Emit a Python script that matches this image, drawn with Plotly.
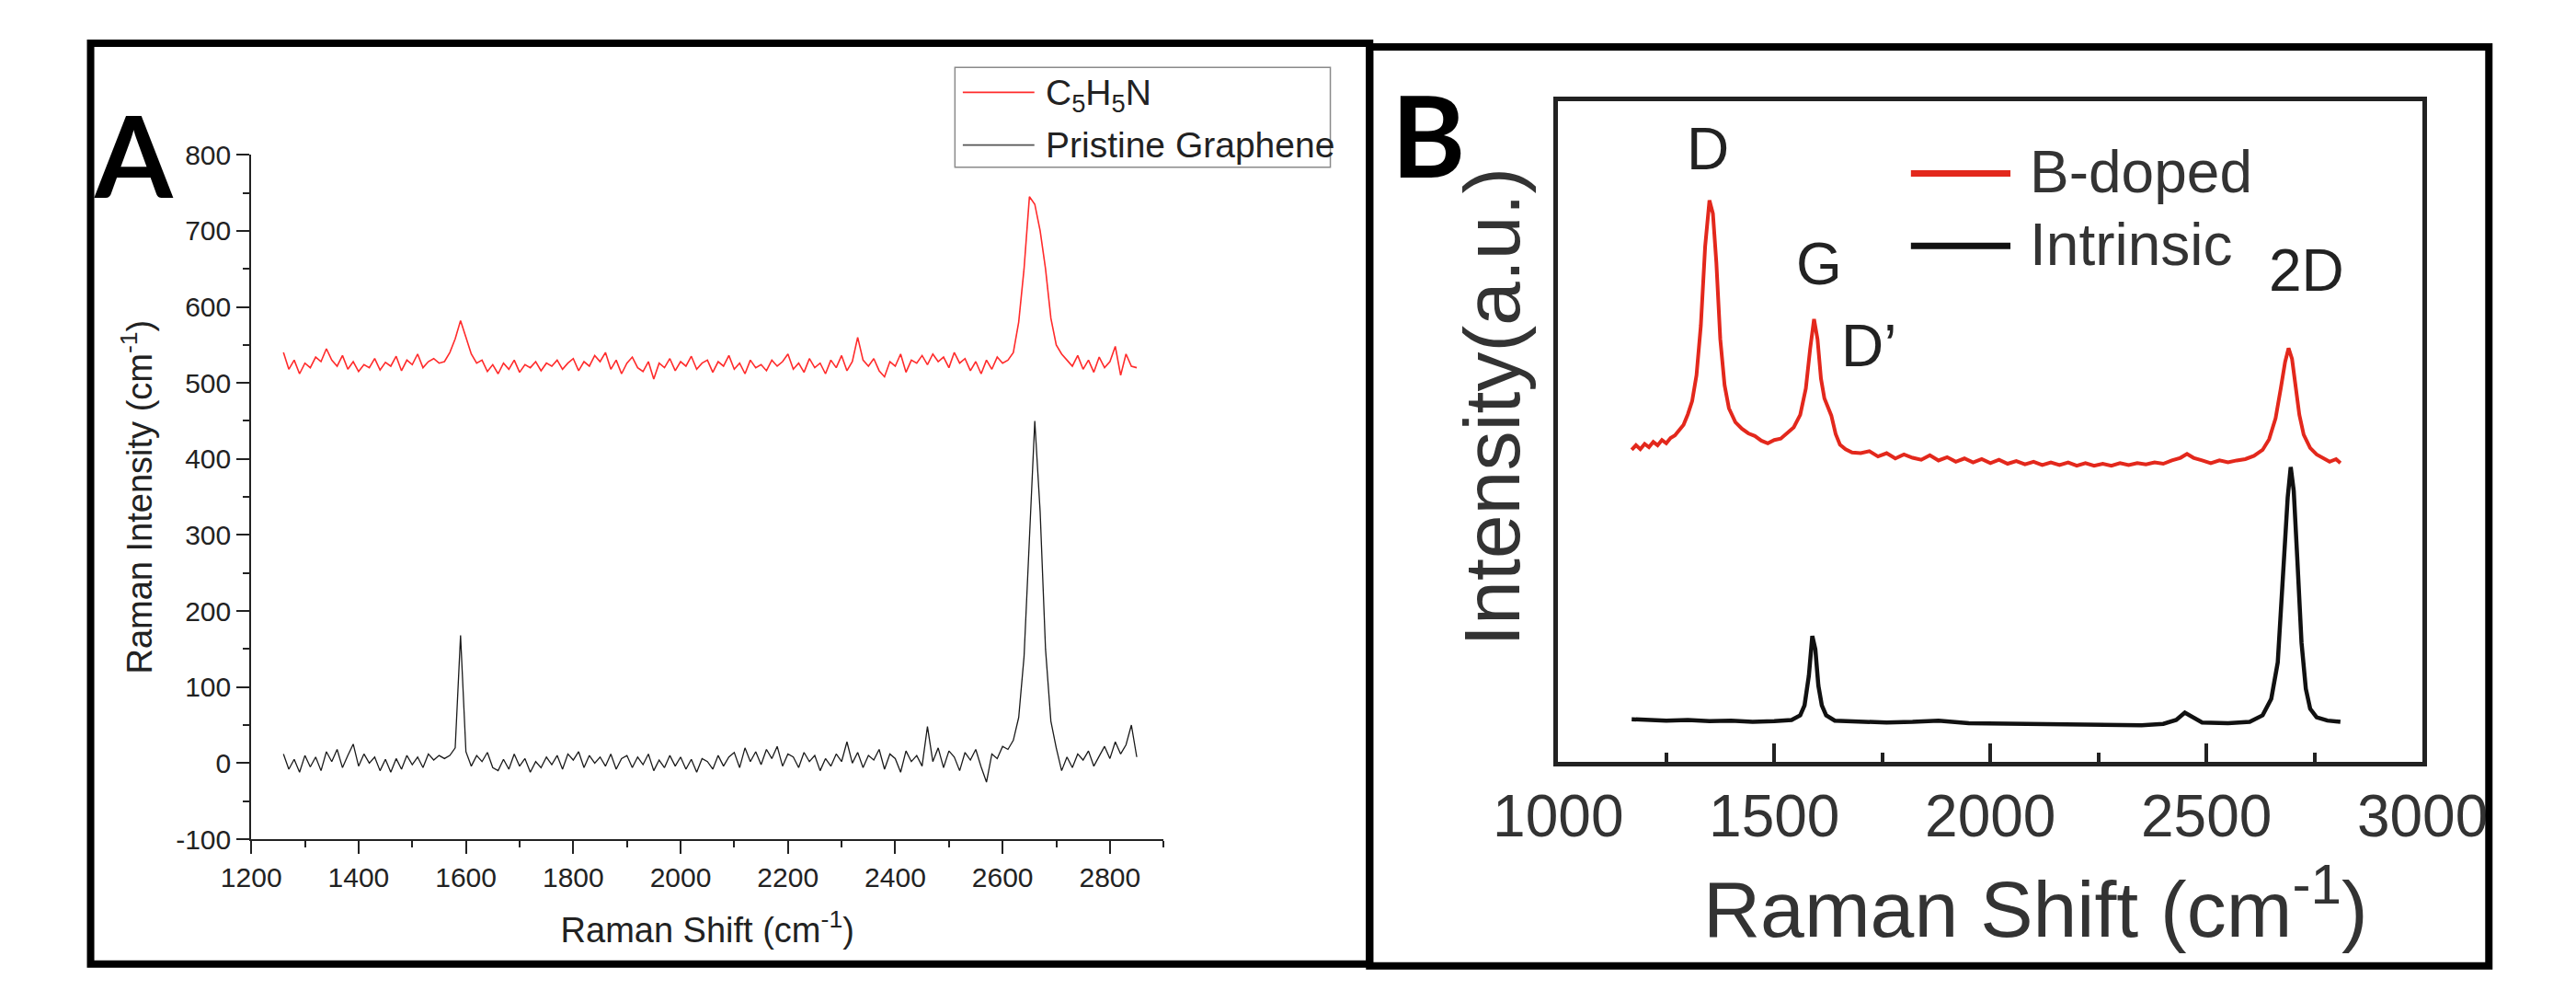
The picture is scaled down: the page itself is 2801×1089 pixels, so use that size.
"""Raman spectra, two panels: A (C5H5N vs pristine graphene), B (B-doped vs intrinsic)"""
import plotly.graph_objects as go

# ---------------- Panel A data ----------------
# sampling grid of the Raman shift, cm-1
shift_a = list(range(1260, 2851, 10))

# C5H5N spectrum (red), one row = 100 cm-1
pyridine_a = [
    540, 518, 530, 512, 526, 520, 534, 528, 545, 530,   # 1260-1350
    522, 536, 518, 528, 515, 524, 520, 532, 517, 527,   # 1360-1450
    522, 535, 516, 530, 524, 538, 520, 528, 532, 526,   # 1460-1550
    528, 540, 558, 582, 560, 538, 526, 530, 515, 524,   # 1560-1650
    512, 526, 518, 530, 514, 524, 520, 528, 516, 526,   # 1660-1750
    522, 530, 518, 526, 532, 516, 528, 522, 536, 528,   # 1760-1850
    540, 518, 530, 512, 526, 534, 520, 515, 528, 505,   # 1860-1950
    526, 520, 532, 516, 528, 522, 535, 518, 526, 530,   # 1960-2050
    514, 528, 522, 536, 518, 526, 512, 530, 520, 524,   # 2060-2150
    516, 530, 522, 528, 538, 518, 526, 514, 532, 520,   # 2160-2250
    526, 512, 530, 520, 536, 516, 528, 560, 530, 522,   # 2260-2350
    532, 516, 508, 528, 522, 538, 514, 530, 526, 536,   # 2360-2450
    524, 538, 528, 534, 520, 540, 526, 532, 516, 528,   # 2460-2550
    512, 530, 518, 534, 526, 530, 540, 580, 650, 745,   # 2560-2650
    735, 700, 650, 585, 550, 538, 530, 522, 536, 518,   # 2660-2750
    530, 514, 534, 520, 528, 548, 510, 538, 522, 520,   # 2760-2850
]

# pristine graphene spectrum (black)
pristine_a = [
    12, -8, 5, -12, 10, -5, 8, -10, 15, 2,              # 1260-1350
    18, -6, 10, 25, -4, 12, 0, 8, -10, 5,               # 1360-1450
    -12, 6, -8, 10, -2, 8, -6, 12, 4, 10,               # 1460-1550
    6, 10, 20, 168, 15, -4, 10, 2, 14, -6,              # 1560-1650
    -10, 5, -8, 12, -4, 6, -12, 2, -6, 8,               # 1660-1750
    -2, 10, -8, 12, 4, 15, -6, 10, 0, 8,                # 1760-1850
    -4, 12, -8, 6, 10, -6, 8, -2, 12, -10,              # 1860-1950
    4, -6, 10, -4, 8, -8, 5, -12, 6, 2,                 # 1960-2050
    -8, 10, -4, 8, 14, -6, 20, 2, 15, -2,               # 2060-2150
    18, 6, 22, -4, 12, 8, -6, 14, 2, 10,                # 2160-2250
    -10, 6, -4, 12, 2, 28, 0, 14, -6, 10,               # 2260-2350
    4, 18, -8, 12, 6, -12, 16, 2, 10, -4,               # 2360-2450
    48, 2, 20, -6, 16, 8, -10, 14, 4, 18,               # 2460-2550
    -5, -25, 12, 6, 22, 18, 30, 60, 140, 290,           # 2560-2650
    450, 330, 150, 55, 20, -10, 8, -6, 12, 4,           # 2660-2750
    16, -4, 10, 22, 6, 28, 12, 24, 50, 8,               # 2760-2850
]

# y tick labels of panel A (plain hyphen, as in the original)
ytick_a = [-100, 0, 100, 200, 300, 400, 500, 600, 700, 800]
ytext_a = ["-100", "0", "100", "200", "300", "400", "500", "600", "700", "800"]

# ---------------- Panel B data (arbitrary units, 0-100) ----------------
bdoped_shift = [
    1170, 1180, 1190, 1200, 1210, 1220, 1230, 1240, 1250, 1260,
    1270, 1280, 1290, 1300, 1310, 1320, 1330, 1340, 1350, 1358,
    1366, 1375, 1385, 1395, 1410, 1425, 1440, 1455, 1470, 1485,
    1500, 1515, 1530, 1545, 1560, 1573, 1583, 1592, 1600, 1608,
    1616, 1624, 1632, 1642, 1652, 1665, 1680, 1700, 1720, 1740,
    1760, 1780, 1800, 1820, 1840, 1860, 1880, 1900, 1920, 1940,
    1960, 1980, 2000, 2020, 2040, 2060, 2080, 2100, 2120, 2140,
    2160, 2180, 2200, 2220, 2240, 2260, 2280, 2300, 2320, 2340,
    2360, 2380, 2400, 2420, 2440, 2455, 2470, 2490, 2510, 2530,
    2550, 2570, 2590, 2610, 2630, 2645, 2660, 2672, 2682, 2690,
    2698, 2706, 2715, 2725, 2740, 2755, 2770, 2785, 2800, 2810,
]
bdoped_int = [
    47.2, 47.9, 47.3, 48.1, 47.6, 48.4, 47.9, 48.7, 48.2, 49.0,
    49.4, 50.3, 51.0, 52.6, 54.6, 58.5, 66.0, 78.0, 85.0, 83.0,
    75.5, 64.0, 57.0, 53.5, 51.4, 50.4, 49.7, 49.3, 48.6, 48.2,
    48.7, 48.9, 49.8, 50.6, 52.5, 56.5, 62.5, 67.0, 64.0, 58.0,
    55.0, 53.8, 52.4, 49.6, 48.0, 47.3, 46.8, 46.7, 47.0, 46.2,
    46.7, 45.9, 46.5, 46.0, 45.7, 46.4, 45.6, 46.1, 45.4, 45.9,
    45.3, 45.8, 45.2, 45.7, 45.1, 45.5, 45.0, 45.4, 44.9, 45.3,
    44.9, 45.3, 44.8, 45.2, 44.8, 45.1, 44.8, 45.2, 44.9, 45.2,
    45.0, 45.3, 45.1, 45.6, 46.0, 46.6, 46.0, 45.6, 45.2, 45.6,
    45.3, 45.6, 45.8, 46.3, 47.2, 48.8, 52.0, 56.5, 60.5, 62.6,
    61.0, 57.0, 52.5, 49.5, 47.5, 46.5, 46.0, 45.4, 45.8, 45.2,
]

intrinsic_shift = [
    1170, 1200, 1250, 1300, 1350, 1400, 1450, 1500, 1540, 1560,
    1570, 1580, 1588, 1595, 1602, 1610, 1620, 1640, 1700, 1760,
    1820, 1880, 1950, 2050, 2150, 2250, 2350, 2400, 2430, 2450,
    2465, 2490, 2550, 2600, 2630, 2650, 2665, 2678, 2688, 2695,
    2702, 2710, 2720, 2730, 2740, 2755, 2780, 2810,
]
intrinsic_int = [
    6.4, 6.3, 6.2, 6.3, 6.1, 6.2, 6.0, 6.1, 6.3, 7.0,
    8.5, 13.0, 19.0, 17.0, 11.5, 8.5, 7.0, 6.2, 6.0, 5.9,
    6.0, 6.2, 5.8, 5.7, 5.6, 5.6, 5.5, 5.7, 6.3, 7.4,
    6.8, 5.9, 5.8, 6.0, 7.0, 9.5, 15.0, 28.0, 40.0, 44.6,
    41.0, 31.0, 18.0, 11.0, 8.0, 6.7, 6.2, 6.0,
]

# peak names written over panel B
peak_names = ["D", "G", "D\u2019", "2D"]
peak_shift = [1347, 1604, 1719, 2731]
peak_level = [92.8, 75.3, 63.0, 74.3]

# ---------------- figure ----------------
W, H = 2801, 1089


def fx(px):
    return px / W


def fy(py):
    return 1 - py / H


FONT = "Liberation Sans, Arial, sans-serif"


def label(text, px, py, size, color="#222", family=FONT, anchor="center", **kw):
    # text placed in figure pixels (top-left origin)
    fig.add_annotation(text=text, x=fx(px), y=fy(py), xref="paper", yref="paper",
                       xanchor=anchor, yanchor="middle", showarrow=False,
                       font=dict(family=family, size=size, color=color), **kw)


def hline(px0, px1, py, color, width):
    fig.add_shape(type="line", xref="paper", yref="paper",
                  x0=fx(px0), x1=fx(px1), y0=fy(py), y1=fy(py),
                  line=dict(color=color, width=width))


trace0 = go.Scatter(x=shift_a, y=pyridine_a, mode="lines", name="C5H5N",
                    line=dict(color="#ff2b2b", width=1.6), xaxis="x", yaxis="y",
                    showlegend=False)
trace1 = go.Scatter(x=shift_a, y=pristine_a, mode="lines", name="Pristine Graphene",
                    line=dict(color="#1a1a1a", width=1.3), xaxis="x", yaxis="y",
                    showlegend=False)
trace2 = go.Scatter(x=bdoped_shift, y=bdoped_int, mode="lines", name="B-doped",
                    line=dict(color="#e3281c", width=4), xaxis="x2", yaxis="y2",
                    showlegend=False)
trace3 = go.Scatter(x=intrinsic_shift, y=intrinsic_int, mode="lines", name="Intrinsic",
                    line=dict(color="#111111", width=4.5), xaxis="x2", yaxis="y2",
                    showlegend=False)

axis_a = dict(showline=True, linecolor="#222", linewidth=2, ticks="outside",
              ticklen=14, tickwidth=2, tickcolor="#222", showgrid=False,
              zeroline=False, tickfont=dict(family=FONT, size=30, color="#222"))

layout = go.Layout(
    width=W, height=H,
    margin=dict(l=0, r=0, t=0, b=0),
    paper_bgcolor="white", plot_bgcolor="rgba(0,0,0,0)",
    font=dict(family=FONT, color="#222"),
    xaxis=dict(axis_a, domain=[fx(213), fx(1258)], range=[1200, 2900], anchor="y",
               tick0=1200, dtick=200,
               minor=dict(dtick=100, ticks="outside", ticklen=7, tickwidth=2, tickcolor="#222"),
               title=dict(text="Raman Shift (cm<sup>-1</sup>)", standoff=28,
                          font=dict(family=FONT, size=38, color="#222"))),
    yaxis=dict(axis_a, domain=[fy(924), fy(157)], range=[-100, 800], anchor="x",
               tickmode="array", tickvals=ytick_a, ticktext=ytext_a,
               minor=dict(dtick=50, ticks="outside", ticklen=7, tickwidth=2, tickcolor="#222"),
               title=dict(text="Raman Intensity (cm<sup>-1</sup>)", standoff=14,
                          font=dict(family=FONT, size=38, color="#222"))),
    xaxis2=dict(domain=[fx(1710), fx(2700)], range=[1000, 3000], anchor="y2",
                showline=True, mirror=True, linecolor="#222", linewidth=5,
                ticks="inside", ticklen=20, tickwidth=4, tickcolor="#222",
                tick0=1000, dtick=500,
                minor=dict(dtick=250, ticks="inside", ticklen=10, tickwidth=4, tickcolor="#222"),
                showgrid=False, zeroline=False,
                tickfont=dict(family=FONT, size=64, color="#333")),
    yaxis2=dict(domain=[fy(837), fy(97)], range=[0, 100], anchor="x2",
                showline=True, mirror=True, linecolor="#222", linewidth=5,
                ticks="", showticklabels=False, showgrid=False, zeroline=False),
)

fig = go.Figure(data=[trace0, trace1, trace2, trace3], layout=layout)

# panel frames
fig.add_shape(type="rect", xref="paper", yref="paper",
              x0=fx(29), x1=fx(1494), y0=fy(1064), y1=fy(32),
              line=dict(color="black", width=8))
fig.add_shape(type="rect", xref="paper", yref="paper",
              x0=fx(1494), x1=fx(2776), y0=fy(1066), y1=fy(36),
              line=dict(color="black", width=8))

# panel letters
label("<b>A</b>", 78, 157, 122, color="black", family="Lato, sans-serif")
label("<b>B</b>", 1561, 134, 122, color="black", family="Lato, sans-serif")

# legend of panel A
fig.add_shape(type="rect", xref="paper", yref="paper",
              x0=fx(1019), x1=fx(1449), y0=fy(171), y1=fy(59),
              line=dict(color="#8a8a8a", width=1.5), fillcolor="white")
hline(1028, 1110, 87, "#ff2b2b", 1.6)
hline(1028, 1110, 146, "#555", 1.6)
label("C<sub>5</sub>H<sub>5</sub>N", 1121, 90, 39, anchor="left")
label("Pristine Graphene", 1121, 146, 39, anchor="left")

# legend of panel B
hline(2114, 2228, 178, "#e3281c", 7)
hline(2114, 2228, 259, "#111", 7)
label("B-doped", 2248, 176, 64, color="#333", anchor="left")
label("Intrinsic", 2248, 258, 64, color="#333", anchor="left")

# peak names
for name, sx, lv in zip(peak_names, peak_shift, peak_level):
    fig.add_annotation(text=name, x=sx, y=lv, xref="x2", yref="y2", showarrow=False,
                       xanchor="center", yanchor="middle",
                       font=dict(family=FONT, size=64, color="#222"))

# axis titles of panel B
label("Raman Shift (cm<sup>-1</sup>)", 2257, 996, 86, color="#333")
label("Intensity(a.u.)", 1634, 440, 86, color="#333", textangle=-90)

fig.write_html("out.html", config={"displayModeBar": False},
               post_script="document.body.style.margin='0';document.body.style.overflow='hidden';")
